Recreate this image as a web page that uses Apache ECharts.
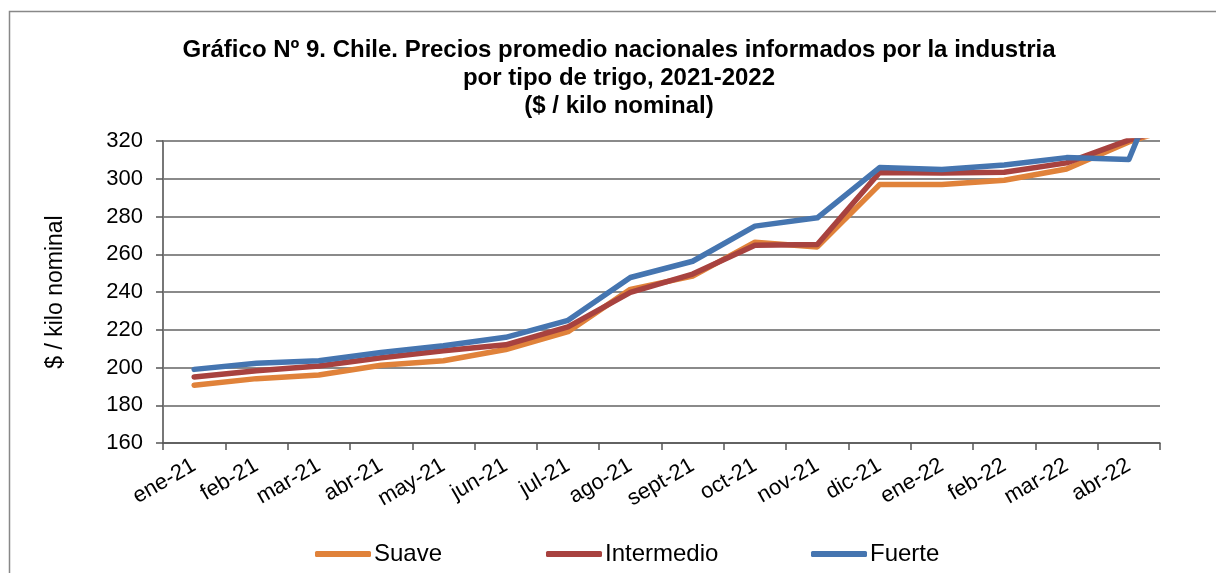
<!DOCTYPE html>
<html>
<head>
<meta charset="utf-8">
<script src="https://cdn.jsdelivr.net/npm/echarts@6/dist/echarts.min.js"></script>
<style>
html,body{margin:0;padding:0;background:#fff;}
#chart{width:1216px;height:573px;}
</style>
</head>
<body>
<div id="chart"></div>
<script>
// Categories (x axis)
const categories = ['ene-21','feb-21','mar-21','abr-21','may-21','jun-21','jul-21','ago-21','sept-21','oct-21','nov-21','dic-21','ene-22','feb-22','mar-22','abr-22'];
// Series values ($ / kilo nominal); last value is an off-axis point that is clipped in the original
const suave      = [190.6, 194.1, 196.0, 201.2, 203.6, 209.5, 219.0, 241.4, 248.4, 266.4, 263.9, 296.9, 296.9, 299.2, 305.2, 319.5, 330];
const intermedio = [195.0, 198.3, 200.8, 205.2, 208.9, 212.0, 221.5, 239.8, 249.5, 264.8, 265.2, 303.3, 303.1, 303.4, 308.4, 320.5, 330];
const fuerte     = [199.0, 202.2, 203.6, 208.0, 211.5, 216.0, 225.0, 247.7, 256.3, 274.9, 279.3, 305.9, 304.9, 307.3, 311.2, 310.2, 390];
// Series names
const seriesNames = ['Suave','Intermedio','Fuerte'];
// Value axis ticks
const yMin = 160, yMax = 320, yStep = 20;

const colors = ['#E0823A','#A8423F','#4575B0'];
const legendLeft = [315, 546, 811];
const chart = echarts.init(document.getElementById('chart'), null, {renderer:'canvas'});
const FONT = 'Liberation Sans, Arial, sans-serif';

function lineSeries(name, data, color){
  return {
    name, type:'line', data, color,
    showSymbol:false, symbol:'none', clip:true,
    lineStyle:{width:5.5, color, cap:'round', join:'round'},
    emphasis:{disabled:true}
  };
}

chart.setOption({
  animation:false,
  backgroundColor:'#fff',
  title:{
    text:'Gráfico Nº 9. Chile. Precios promedio nacionales informados por la industria\npor tipo de trigo, 2021-2022\n($ / kilo nominal)',
    left:614, textAlign:'center', top:32,
    textStyle:{fontFamily:FONT, fontSize:24, fontWeight:'bold', color:'#000', lineHeight:27.6}
  },
  graphic:[{
    type:'rect', silent:true, z:-1,
    shape:{x:9.5, y:11.5, width:1220, height:580},
    style:{fill:null, stroke:'#888', lineWidth:1.5}
  }],
  legend: seriesNames.map((n, i) => ({
    bottom:7, left:legendLeft[i], padding:0,
    itemWidth:56, itemHeight:6,
    icon:'roundRect',
    textStyle:{fontFamily:FONT, fontSize:24, color:'#000', padding:[0,0,0,-2]},
    data:[n]
  })),
  grid:{left:163, right:56, top:141, bottom:130, containLabel:false},
  xAxis:{
    type:'category', data:categories, boundaryGap:true,
    axisLine:{lineStyle:{color:'#555', width:1.5}},
    axisTick:{show:true, length:7, lineStyle:{color:'#555', width:1.5}, alignWithLabel:false},
    axisLabel:{rotate:30, margin:21, fontFamily:FONT, fontSize:22, color:'#000', interval:0},
    splitLine:{show:false}
  },
  yAxis:{
    type:'value', min:yMin, max:yMax, interval:yStep,
    name:'$ / kilo nominal', nameLocation:'middle', nameGap:96,
    nameTextStyle:{fontFamily:FONT, fontSize:23, color:'#000'},
    axisLine:{show:true, lineStyle:{color:'#777', width:2}},
    axisTick:{show:true, length:7, lineStyle:{color:'#555', width:1.5}},
    axisLabel:{margin:20, fontFamily:FONT, fontSize:22, color:'#000'},
    splitLine:{show:true, lineStyle:{color:'#8a8a8a', width:2}}
  },
  series:[
    lineSeries(seriesNames[0], suave, colors[0]),
    lineSeries(seriesNames[1], intermedio, colors[1]),
    lineSeries(seriesNames[2], fuerte, colors[2])
  ]
});
</script>
</body>
</html>
